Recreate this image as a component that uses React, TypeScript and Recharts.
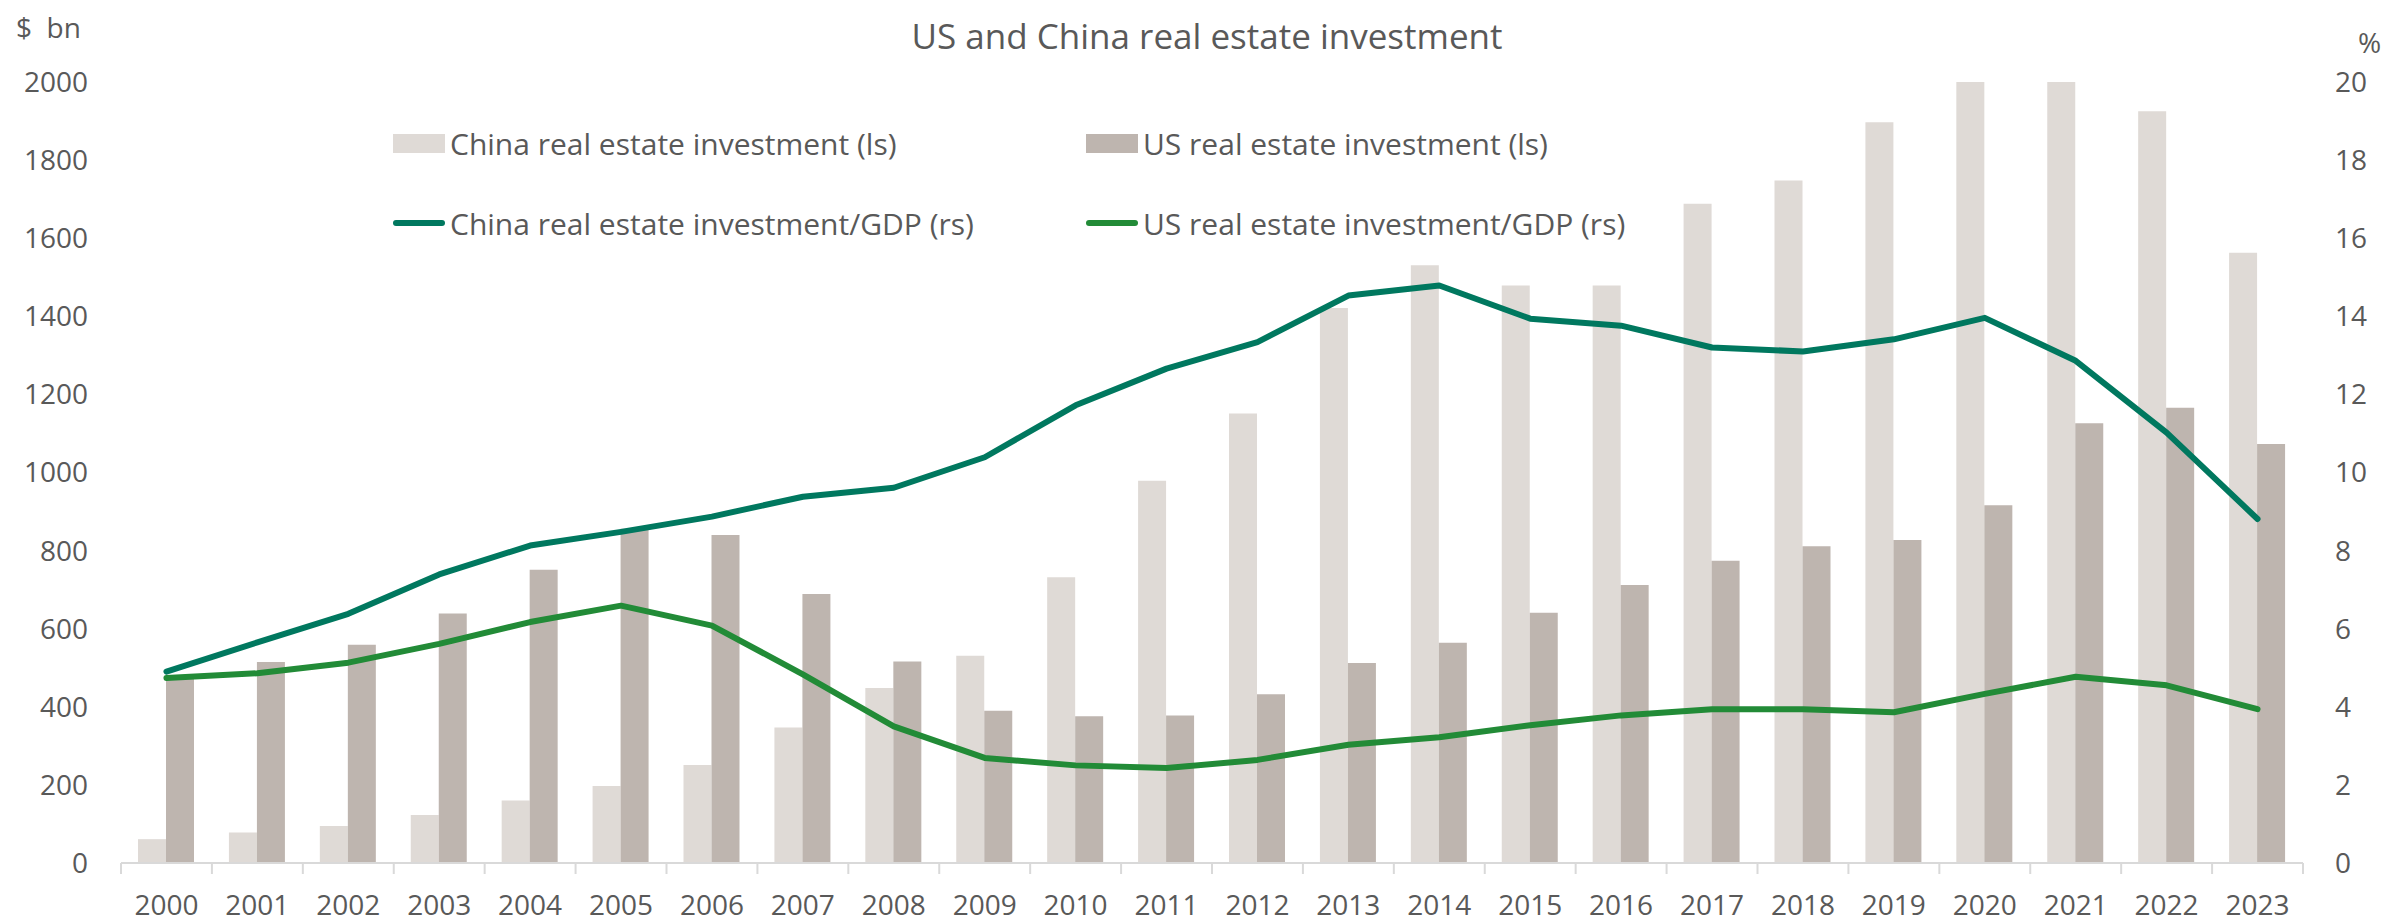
import React from "react"
import {
  ComposedChart,
  Bar,
  Line,
  XAxis,
  YAxis,
  Legend,
} from "recharts"

const years = [
  "2000", "2001", "2002", "2003", "2004", "2005", "2006", "2007", "2008", "2009", "2010", "2011",
  "2012", "2013", "2014", "2015", "2016", "2017", "2018", "2019", "2020", "2021", "2022", "2023",
]
const chinaInvest = [
  61, 78, 95, 123, 160, 197, 251, 347, 448, 531, 732, 979,
  1151, 1421, 1531, 1479, 1479, 1688, 1748, 1897, 2000, 2000, 1925, 1563,
]
const usInvest = [
  473, 515, 559, 639, 751, 856, 840, 689, 516, 390, 376, 378,
  432, 512, 564, 641, 712, 774, 811, 827, 916, 1126, 1166, 1073,
]
const chinaGdpShare = [
  4.9, 5.65, 6.38, 7.39, 8.13, 8.48, 8.87, 9.38, 9.61, 10.39, 11.72, 12.66,
  13.34, 14.53, 14.79, 13.94, 13.76, 13.2, 13.1, 13.41, 13.96, 12.86, 11.02, 8.81,
]
const usGdpShare = [
  4.74, 4.86, 5.13, 5.61, 6.17, 6.59, 6.08, 4.83, 3.5, 2.69, 2.5, 2.43,
  2.64, 3.03, 3.22, 3.53, 3.78, 3.94, 3.94, 3.86, 4.33, 4.77, 4.55, 3.94,
]
const leftTicks = [0, 200, 400, 600, 800, 1000, 1200, 1400, 1600, 1800, 2000]
const rightTicks = [0, 2, 4, 6, 8, 10, 12, 14, 16, 18, 20]

const data = years.map((year, i) => ({
  year,
  china: chinaInvest[i],
  us: usInvest[i],
  chinaGdp: chinaGdpShare[i],
  usGdp: usGdpShare[i],
}))

const FONT = "'Open Sans', 'Noto Sans', sans-serif"
const TEXT = "#595959"
const AXIS = "#D9D9D9"
const CHINA_BAR = "#DFDAD6"
const US_BAR = "#BEB5AF"
const CHINA_LINE = "#00785F"
const US_LINE = "#228B37"

// legend slot per series: [left, centerY]
const legendSlots: Record<string, number[]> = {
  china: [393, 143],
  us: [1086, 143],
  chinaGdp: [393, 223],
  usGdp: [1086, 223],
}

// eslint-disable-next-line @typescript-eslint/no-explicit-any
function YearTick(props: any) {
  const { x, y, payload, index, visibleTicksCount } = props
  const off = payload?.offset ?? 45.45
  return (
    <g>
      <line x1={x - off} x2={x - off} y1={y} y2={y + 11} stroke={AXIS} strokeWidth={2} />
      {index === visibleTicksCount - 1 && (
        <line x1={x + off} x2={x + off} y1={y} y2={y + 11} stroke={AXIS} strokeWidth={2} />
      )}
      <text x={x} y={y + 52} textAnchor="middle" fill={TEXT} fontSize={28} fontFamily={FONT}>
        {payload.value}
      </text>
    </g>
  )
}

// eslint-disable-next-line @typescript-eslint/no-explicit-any
function LegendBox(props: any) {
  const items = props.payload ?? []
  return (
    <div style={{ position: "relative", width: 2387, height: 260 }}>
      {/* eslint-disable-next-line @typescript-eslint/no-explicit-any */}
      {items.map((it: any) => {
        const [left, cy] = legendSlots[it.dataKey] ?? [0, 0]
        const isLine = it.type === "line"
        return (
          <div
            key={it.value}
            style={{
              position: "absolute",
              left,
              top: cy - 21,
              height: 42,
              display: "flex",
              alignItems: "center",
              fontFamily: FONT,
              fontSize: 30,
              color: TEXT,
              whiteSpace: "nowrap",
            }}
          >
            <span
              style={{
                display: "inline-block",
                width: 52,
                height: isLine ? 6 : 19,
                borderRadius: isLine ? 3 : 0,
                background: it.color,
                marginRight: 5,
              }}
            />
            {it.value}
          </div>
        )
      })}
    </div>
  )
}

export default function App() {
  return (
    <div style={{ position: "absolute", left: 0, top: 0, width: 2387, height: 923, background: "#fff" }}>
      <ComposedChart
        width={2387}
        height={923}
        data={data}
        margin={{ top: 82, right: 0, bottom: 0, left: 0 }}
        barGap={0}
      >
        <XAxis
          dataKey="year"
          height={60}
          tickLine={false}
          tickSize={0}
          tickMargin={0}
          axisLine={{ stroke: AXIS, strokeWidth: 2 }}
          tick={<YearTick />}
          interval={0}
        />
        <YAxis
          yAxisId="left"
          width={121}
          domain={[0, 2000]}
          ticks={leftTicks}
          axisLine={false}
          tickLine={false}
          tickSize={0}
          tickMargin={33}
          tick={{ fill: TEXT, fontSize: 28, fontFamily: FONT }}
        />
        <YAxis
          yAxisId="right"
          orientation="right"
          width={84}
          domain={[0, 20]}
          ticks={rightTicks}
          axisLine={false}
          tickLine={false}
          tickSize={0}
          tickMargin={32}
          tick={{ fill: TEXT, fontSize: 28, fontFamily: FONT }}
        />
        <Legend
          layout="horizontal"
          verticalAlign="middle"
          align="center"
          wrapperStyle={{ top: 0, left: 0, width: 2387 }}
          content={<LegendBox />}
        />
        <Bar
          yAxisId="left"
          dataKey="china"
          name="China real estate investment (ls)"
          fill={CHINA_BAR}
          barSize={28}
          legendType="rect"
          isAnimationActive={false}
        />
        <Bar
          yAxisId="left"
          dataKey="us"
          name="US real estate investment (ls)"
          fill={US_BAR}
          barSize={28}
          legendType="rect"
          isAnimationActive={false}
        />
        <Line
          yAxisId="right"
          dataKey="chinaGdp"
          name="China real estate investment/GDP (rs)"
          stroke={CHINA_LINE}
          strokeWidth={6}
          strokeLinecap="round"
          strokeLinejoin="round"
          dot={false}
          legendType="line"
          isAnimationActive={false}
        />
        <Line
          yAxisId="right"
          dataKey="usGdp"
          name="US real estate investment/GDP (rs)"
          stroke={US_LINE}
          strokeWidth={6}
          strokeLinecap="round"
          strokeLinejoin="round"
          dot={false}
          legendType="line"
          isAnimationActive={false}
        />
      </ComposedChart>
      <svg
        width={2387}
        height={923}
        style={{ position: "absolute", left: 0, top: 0, pointerEvents: "none" }}
      >
        <text x={1207} y={49} textAnchor="middle" fill={TEXT} fontSize={35} fontFamily={FONT}>
          US and China real estate investment
        </text>
        <text x={16} y={38} fill={TEXT} fontSize={28} fontFamily={FONT} xmlSpace="preserve">
          $  bn
        </text>
        <text x={2358} y={53} fill={TEXT} fontSize={28} fontFamily={FONT}>
          %
        </text>
      </svg>
    </div>
  )
}
